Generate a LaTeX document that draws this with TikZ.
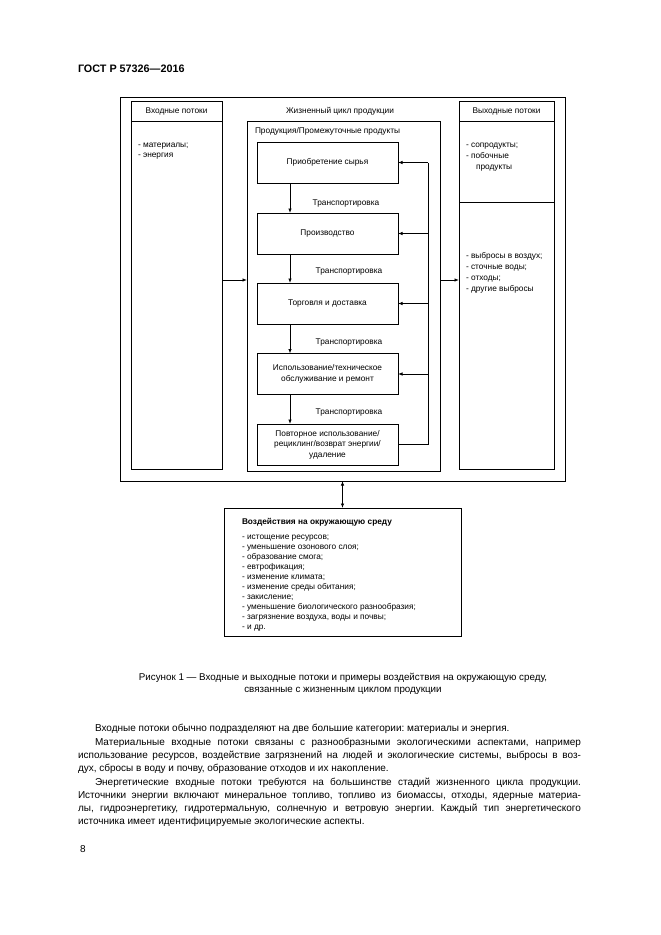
\documentclass[tikz,border=0pt]{standalone}
\usepackage{fontspec}
\setmainfont{Liberation Sans}
\usetikzlibrary{arrows.meta,calc}
\frenchspacing
\begin{document}
\begin{tikzpicture}[x=1pt,y=-1pt,line width=0.8pt,
  every node/.style={inner sep=0pt,outer sep=0pt},
  dg/.style={font=\fontsize{8.3}{10}\selectfont},
  dgb/.style={font=\fontsize{8.3}{10}\selectfont\bfseries},
  frame/.style={draw,line width=0.9pt},
  stagebox/.style={draw,line width=0.9pt,minimum width=141,minimum height=41,align=center,font=\fontsize{8.3}{10.5}\selectfont},
  arr/.style={-{Latex[length=4.5pt,width=3.5pt]}},
  darr/.style={{Latex[length=4.5pt,width=3.5pt]}-{Latex[length=4.5pt,width=3.5pt]}},
  body/.style={font=\fontsize{10}{13}\selectfont,anchor=base west},
]
\useasboundingbox (0,0) rectangle (661,935);
\fill[white] (0,0) rectangle (661,935);

% header
\node[anchor=base west,font=\fontsize{10.8}{12}\selectfont\bfseries] (hdr) at (78,72) {ГОСТ Р 57326—2016};

% frames
\node[frame,minimum width=445,minimum height=384] (outer) at (342.5,289) {};
\node[frame,minimum width=91,minimum height=368] (inbox) at (176.5,285) {};
\node[frame,minimum width=95,minimum height=368] (outbox) at (506.5,285) {};
\node[frame,minimum width=193,minimum height=350] (lc) at (343.5,296) {};
\coordinate (d1) at (0,121);
\coordinate (d2) at (0,202);
\draw[line width=0.9pt] (inbox.west |- d1) -- (inbox.east |- d1);
\draw[line width=0.9pt] (outbox.west |- d1) -- (outbox.east |- d1);
\draw[line width=0.9pt] (outbox.west |- d2) -- (outbox.east |- d2);

% column titles
\node[dg] (tin) at (176.5,111) {Входные потоки};
\node[dg] (tout) at (506.5,111) {Выходные потоки};
\node[dg] (tlc) at (340,111) {Жизненный цикл продукции};
\node[dg,anchor=west] (tprod) at (255,131) {Продукция/Промежуточные продукты};

% input items
\node[dg,anchor=base west] (in1) at (138,147) {- материалы;};
\node[dg,anchor=base west] (in2) at (138,157) {- энергия};

% output items
\node[dg,anchor=base west] (o1) at (466,147) {- сопродукты;};
\node[dg,anchor=base west] (o2) at (466,158) {- побочные};
\node[dg,anchor=base west] (o3) at (476,169) {продукты};
\node[dg,anchor=base west] (o4) at (466,258) {- выбросы в воздух;};
\node[dg,anchor=base west] (o5) at (466,269) {- сточные воды;};
\node[dg,anchor=base west] (o6) at (466,280) {- отходы;};
\node[dg,anchor=base west] (o7) at (466,291) {- другие выбросы};

% stages
\node[stagebox] (b1) at (327.5,162.5) {Приобретение сырья};
\node[stagebox] (b2) at (327.5,233.5) {Производство};
\node[stagebox] (b3) at (327.5,303.5) {Торговля и доставка};
\node[stagebox] (b4) at (327.5,374) {Использование/техническое\\обслуживание и ремонт};
\node[stagebox] (b5) at (327.5,444.5) {Повторное использование/\\рециклинг/возврат энергии/\\удаление};

% transport labels
\node[dg] (t1) at (346,204) {Транспортировка};
\node[dg] (t2) at (349,272) {Транспортировка};
\node[dg] (t3) at (349,343) {Транспортировка};
\node[dg] (t4) at (349,412) {Транспортировка};

% down arrows
\coordinate (ax) at (290,0);
\draw[arr] (b1.south -| ax) -- (b2.north -| ax);
\draw[arr] (b2.south -| ax) -- (b3.north -| ax);
\draw[arr] (b3.south -| ax) -- (b4.north -| ax);
\draw[arr] (b4.south -| ax) -- (b5.north -| ax);

% feedback loop
\coordinate (fb) at (428,0);
\draw (b5.east) -- (b5.east -| fb) -- (b1.east -| fb);
\draw[arr] (b1.east -| fb) -- (b1.east);
\draw[arr] (b2.east -| fb) -- (b2.east);
\draw[arr] (b3.east -| fb) -- (b3.east);
\draw[arr] (b4.east -| fb) -- (b4.east);

% in/out arrows
\coordinate (mid) at (0,280);
\draw[arr] (inbox.east |- mid) -- (lc.west |- mid);
\draw[arr] (lc.east |- mid) -- (outbox.west |- mid);

% impacts
\node[frame,minimum width=237,minimum height=128] (imp) at (342.5,572) {};
\draw[darr] (outer.south -| imp.north) -- (imp.north);
\node[dgb,anchor=base west] (impt) at (242,524) {Воздействия на окружающую среду};
\foreach \t [count=\i from 0] in {
  {- истощение ресурсов;},
  {- уменьшение озонового слоя;},
  {- образование смога;},
  {- евтрофикация;},
  {- изменение климата;},
  {- изменение среды обитания;},
  {- закисление;},
  {- уменьшение биологического разнообразия;},
  {- загрязнение воздуха, воды и почвы;},
  {- и др.}}
  \node[dg,anchor=base west] (imp\i) at (242,539+10.1*\i) {\t};

% caption
\node[font=\fontsize{9.8}{12}\selectfont,anchor=base] (cap1) at (343,680) {Рисунок 1 — Входные и выходные потоки и примеры воздействия на окружающую среду,};
\node[font=\fontsize{9.8}{12}\selectfont,anchor=base] (cap2) at (343,692) {связанные с жизненным циклом продукции};

% body text
\node[body] (p1) at (95,731.5) {Входные потоки обычно подразделяют на две большие категории: материалы и энергия.};
\node[body] (p2) at (95,745) {\makebox[486pt][s]{Материальные входные потоки связаны с разнообразными экологическими аспектами, например}};
\node[body] (p3) at (78,758) {\makebox[503pt][s]{использование ресурсов, воздействие загрязнений на людей и экологические системы, выбросы в воз-}};
\node[body] (p4) at (78,771) {дух, сбросы в воду и почву, образование отходов и их накопление.};
\node[body] (p5) at (95,785) {\makebox[486pt][s]{Энергетические входные потоки требуются на большинстве стадий жизненного цикла продукции.}};
\node[body] (p6) at (78,798) {\makebox[503pt][s]{Источники энергии включают минеральное топливо, топливо из биомассы, отходы, ядерные материа-}};
\node[body] (p7) at (78,811) {\makebox[503pt][s]{лы, гидроэнергетику, гидротермальную, солнечную и ветровую энергии. Каждый тип энергетического}};
\node[body] (p8) at (78,824) {источника имеет идентифицируемые экологические аспекты.};

\node[body] (pg) at (80,852) {8};
\end{tikzpicture}
\end{document}
